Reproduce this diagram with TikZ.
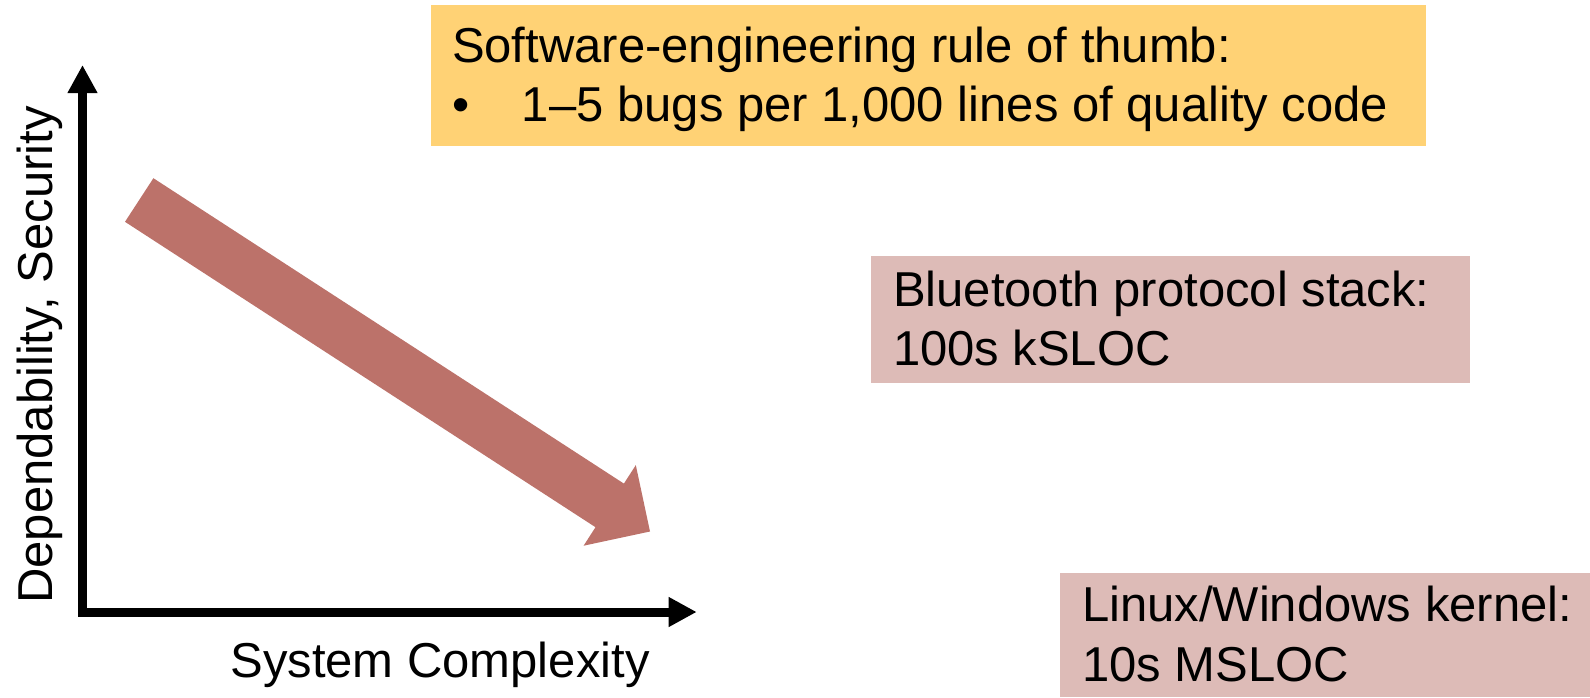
\documentclass[tikz,border=0pt]{standalone}
\usepackage{fontspec}
\setmainfont{Liberation Sans}
\usetikzlibrary{arrows.meta}

\definecolor{noteyellow}{RGB}{255,210,117}
\definecolor{notepink}{RGB}{221,187,183}
\definecolor{trendred}{RGB}{188,114,106}

\tikzset{
  panel/.style={inner sep=0pt, outer sep=0pt, anchor=north west, draw=none},
  label/.style={inner sep=0pt, outer sep=0pt, anchor=base west,
                font=\fontsize{49}{59}\selectfont},
  axis/.style={line width=9pt, line cap=rect,
               -{Triangle[length=28pt,width=28pt]}},
}

\begin{document}
\begin{tikzpicture}[x=1pt,y=-1pt]
  \useasboundingbox (0,0) rectangle (1590,697);

  % axes
  \coordinate (origin) at (82.5,612);
  \coordinate (ytip) at (82.5,65);
  \coordinate (xtip) at (696.7,612);
  \draw[axis] (origin) -- (ytip);
  \draw[axis] (origin) -- (xtip);

  \node[label, anchor=base, rotate=90] (ylab) at (52,355) {Dependability, Security};
  \node[label, anchor=base] (xlab) at (440,677) {System Complexity};

  % falling trend arrow
  \fill[trendred] (125,221.8) -- (153.4,178.2) -- (623.9,483.6) -- (635.8,465.1)
                  -- (650,531.5) -- (583.6,545.7) -- (595.5,527.2) -- cycle;

  % rule-of-thumb note
  \node[panel, fill=noteyellow, minimum width=995pt, minimum height=140.7pt]
       (rulebox) at (431,5) {};
  \node[label] (ruleA) at (452,62.5) {Software-engineering rule of thumb:};
  \node[label] (ruleB) at (452,121.5)
       {\makebox[70pt][l]{•}1–5 bugs per 1,000 lines of quality code};

  % Bluetooth note
  \node[panel, fill=notepink, minimum width=599pt, minimum height=127.3pt]
       (btbox) at (871,256) {};
  \node[label] (btA) at (893,306) {Bluetooth protocol stack:};
  \node[label] (btB) at (893,365) {100s kSLOC};

  % kernel note
  \node[panel, fill=notepink, minimum width=530pt, minimum height=123.7pt]
       (kbox) at (1060,573.3) {};
  \node[label] (kA) at (1082,621) {Linux/Windows kernel:};
  \node[label] (kB) at (1082,681) {10s MSLOC};
\end{tikzpicture}
\end{document}
